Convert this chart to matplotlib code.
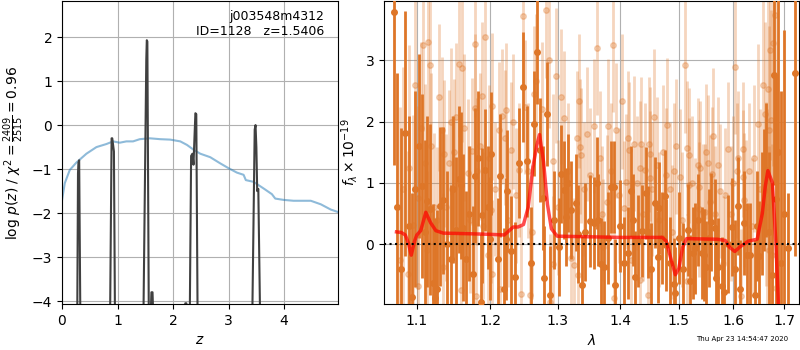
import numpy as np
import matplotlib
matplotlib.use('Agg')
import matplotlib.pyplot as plt
from matplotlib.ticker import NullLocator

# ---- left panel: redshift fit ----
z_chi = [0.0, 0.05, 0.14, 0.26, 0.44, 0.62, 0.80, 0.92, 1.04, 1.16, 1.28, 1.40, 1.58, 1.77,
         1.95, 2.13, 2.25, 2.37, 2.49, 2.67, 2.85, 3.00, 3.15, 3.27, 3.31, 3.45, 3.63, 3.78,
         3.84, 3.99, 4.17, 4.48, 4.66, 4.84, 4.98]
chi_scaled = [-1.71, -1.32, -1.02, -0.85, -0.65, -0.50, -0.43, -0.37, -0.40, -0.37, -0.37,
              -0.32, -0.30, -0.32, -0.33, -0.37, -0.45, -0.56, -0.65, -0.73, -0.87, -0.98,
              -1.08, -1.13, -1.25, -1.29, -1.44, -1.57, -1.67, -1.70, -1.72, -1.72, -1.80,
              -1.92, -1.98]

z_pz = [0.0, 0.268, 0.288, 0.296, 0.309, 0.34, 0.855, 0.893, 0.905, 0.93, 0.935, 0.962,
        1.452, 1.518, 1.527, 1.537, 1.57, 1.598, 1.61, 1.63, 1.642, 2.20, 2.22, 2.24, 2.26,
        2.29, 2.325, 2.35, 2.368, 2.385, 2.402, 2.418, 2.45, 3.41, 3.47, 3.485, 3.50, 3.515,
        3.535, 3.585, 4.98]
logpz = [-8, -6, -1.1, -0.85, -0.8, -6, -6, -0.3, -0.3, -0.55, -0.6, -6,
         -6, 1.5, 1.93, 1.9, -6, -4.3, -3.8, -3.8, -4.3, -6, -4.05, -4.05, -6,
         -6, -0.7, -0.65, -0.9, -0.3, 0.27, 0.25, -6, -6, -0.1, 0.0, -0.5, -1.5,
         -1.45, -6, -8]

# ---- right panel: 1D spectrum, beam A (solid) ----
dark_wave = [1.071, 1.075, 1.080, 1.085, 1.090, 1.094, 1.098, 1.103, 1.107, 1.110, 1.113, 1.117,
             1.121, 1.124, 1.127, 1.131, 1.135, 1.140, 1.145, 1.148, 1.152, 1.156, 1.159, 1.162,
             1.166, 1.170, 1.175, 1.178, 1.183, 1.187, 1.188, 1.193, 1.196, 1.200, 1.201, 1.211,
             1.214, 1.219, 1.222, 1.224, 1.230, 1.235, 1.241, 1.247, 1.253, 1.259, 1.264, 1.268,
             1.272, 1.277, 1.279, 1.283, 1.288, 1.294, 1.302, 1.305, 1.310, 1.313, 1.316, 1.320,
             1.328, 1.332, 1.337, 1.343, 1.351, 1.356, 1.362, 1.364, 1.368, 1.373, 1.380, 1.385,
             1.389, 1.391, 1.400, 1.405, 1.413, 1.418, 1.421, 1.424, 1.430, 1.436, 1.443, 1.447,
             1.452, 1.458, 1.463, 1.466, 1.471, 1.475, 1.477, 1.484, 1.491, 1.494, 1.500, 1.508,
             1.516, 1.520, 1.526, 1.529, 1.535, 1.541, 1.545, 1.549, 1.555, 1.559, 1.565, 1.567,
             1.571, 1.578, 1.582, 1.590, 1.597, 1.603, 1.609, 1.612, 1.620, 1.626, 1.633, 1.641,
             1.645, 1.649, 1.655, 1.659, 1.664, 1.670, 1.675, 1.679, 1.683, 1.688, 1.693, 1.700,
             1.708, 1.721]
dark_flux = [3.79, 0.6, -0.4, 1.81, 0.3, -0.86, 0.9, 1.60, 0.95, 0.2, 0.70, 0.57,
             -0.64, -0.88, -0.74, 0.62, 0.72, 0.0, -0.24, 0.9, 0.23, 1.06, 0.96, 0.27,
             -0.24, 0.5, -0.48, 1.12, 1.40, -0.94, 0.47, 1.21, 0.6, 0.09, 1.48, -0.24,
             1.12, -0.74, 0.08, 0.87, -0.11, -0.54, 1.32, 2.56, 1.35, -0.30, 1.97, 3.14,
             1.54, 0.75, -0.56, 2.12, -0.83, 0.4, -0.05, 1.14, 0.88, 0.45, 1.00, 0.56,
             0.68, 0.17, -0.66, 0.2, 0.38, 0.35, 1.00, 0.39, -0.32, -0.37, 0.1, 0.94,
             0.93, -0.67, 0.3, -0.3, -0.14, 0.86, 0.39, -0.53, 0.05, 0.22, 0.83, 0.20,
             -0.4, 0.68, -0.21, 0.59, 0.1, 0.78, -0.02, -0.3, -0.65, -0.80, 0.1, -0.40,
             0.23, -0.6, -0.14, -0.07, 0.4, -0.15, -0.18, -0.37, 0.1, 0.36, 0.27, -0.56,
             -0.37, -0.69, -0.78, 0.0, 0.28, -0.4, 0.62, -0.73, 0.34, -0.18, -0.18, -0.83,
             0.3, -0.20, 0.5, 0.88, 1.21, 0.2, -0.5, 2.76, 0.74, 1.5, -0.3, 0.5,
             -0.07, 2.80]
dark_err = [2.5, 2.2, 2.3, 2.0, 1.8, 1.7, 1.6, 1.5, 1.5, 1.5, 1.4, 1.4,
            1.3, 1.3, 1.3, 1.3, 1.2, 1.2, 1.2, 1.2, 1.2, 1.2, 1.2, 1.2,
            1.1, 1.1, 1.1, 1.1, 1.1, 1.1, 1.1, 1.0, 1.0, 1.0, 1.0, 1.0,
            1.0, 1.0, 1.0, 1.0, 0.9, 0.9, 0.9, 0.9, 0.9, 0.9, 0.85, 0.85,
            0.85, 0.85, 0.85, 0.85, 0.8, 0.8, 0.8, 0.8, 0.8, 0.8, 0.8, 0.8,
            0.8, 0.8, 0.8, 0.8, 0.75, 0.75, 0.75, 0.75, 0.75, 0.75, 0.75, 0.75,
            0.75, 0.75, 0.75, 0.75, 0.75, 0.75, 0.75, 0.75, 0.75, 0.75, 0.75, 0.75,
            0.75, 0.75, 0.75, 0.75, 0.75, 0.75, 0.75, 0.75, 0.75, 0.75, 0.75, 0.75,
            0.75, 0.75, 0.75, 0.75, 0.75, 0.75, 0.75, 0.75, 0.8, 0.8, 0.8, 0.8,
            0.8, 0.8, 0.8, 0.8, 0.8, 0.8, 0.8, 0.8, 0.85, 0.85, 0.85, 0.9,
            0.9, 0.9, 1.0, 1.0, 1.1, 1.3, 1.5, 1.8, 2.0, 2.5, 2.8, 3.0,
            0.9, 3.0]

# ---- beam B (faint) ----
light_wave = [1.078, 1.088, 1.090, 1.095, 1.097, 1.101, 1.102, 1.108, 1.111, 1.115, 1.117, 1.122,
              1.126, 1.133, 1.134, 1.136, 1.143, 1.145, 1.150, 1.152, 1.156, 1.159, 1.160, 1.168,
              1.174, 1.178, 1.179, 1.180, 1.181, 1.188, 1.193, 1.196, 1.201, 1.202, 1.203, 1.212,
              1.214, 1.217, 1.221, 1.222, 1.229, 1.241, 1.244, 1.248, 1.251, 1.254, 1.257, 1.261,
              1.263, 1.267, 1.282, 1.287, 1.288, 1.292, 1.293, 1.297, 1.305, 1.310, 1.320, 1.325,
              1.330, 1.331, 1.333, 1.334, 1.336, 1.351, 1.357, 1.362, 1.372, 1.378, 1.380, 1.388,
              1.390, 1.393, 1.402, 1.406, 1.409, 1.412, 1.415, 1.422, 1.432, 1.433, 1.435, 1.441,
              1.447, 1.448, 1.449, 1.450, 1.457, 1.477, 1.479, 1.491, 1.496, 1.511, 1.514, 1.515,
              1.518, 1.519, 1.534, 1.536, 1.537, 1.539, 1.543, 1.548, 1.550, 1.552, 1.557, 1.560,
              1.562, 1.576, 1.581, 1.590, 1.596, 1.604, 1.608, 1.609, 1.615, 1.618, 1.619, 1.620,
              1.648, 1.658, 1.662, 1.663, 1.665, 1.668, 1.669, 1.670, 1.672, 1.673, 1.675, 1.677,
              1.681, 1.684]
light_flux = [-0.26, -0.48, 1.25, 0.31, 2.60, -0.69, 0.76, 3.25, 1.32, 3.30, 2.92, 0.61,
              0.39, 1.86, -0.37, 1.48, 1.32, 2.00, 1.50, 2.08, 2.95, -0.75, 2.87, 1.17,
              1.52, 3.27, 2.23, -0.85, 1.19, 2.42, 3.38, -0.18, 0.56, 2.25, -0.48, 1.87,
              -0.74, 2.09, 1.74, 2.19, 1.54, 1.21, -0.81, 3.73, 2.24, 1.20, -0.83, 0.20,
              2.46, 2.66, 3.82, 3.00, -0.94, 1.36, -0.32, 2.75, 2.41, 2.06, -0.22, -0.34,
              1.73, -0.51, 2.34, 1.59, 1.45, 1.13, 1.93, 3.21, -0.04, 0.69, 1.93, 3.25,
              -0.88, 1.86, 2.33, 0.59, 1.02, 1.73, 1.54, 1.64, 1.24, -0.58, 1.63, 1.21,
              -0.83, 1.63, 1.47, 1.08, 2.08, 1.13, 1.94, 1.20, 1.60, 2.92, 1.57, -0.60,
              1.45, 0.96, 1.29, 0.93, 0.57, 1.24, 0.53, 0.53, 1.51, 1.33, 0.69, 1.14,
              1.77, 0.87, -0.32, 1.55, 0.50, 2.90, 1.20, 1.40, -0.85, 1.09, 1.55, 0.72,
              1.97, 2.60, 2.13, 0.82, 0.61, 2.53, 1.86, -0.10, 3.17, 2.03, -0.17, 3.28,
              3.74, -0.71]
light_err = [2.5, 2.0, 2.0, 1.8, 1.8, 1.5, 1.5, 1.4, 1.3, 1.3, 1.3, 1.2,
             1.2, 1.2, 1.2, 1.2, 1.2, 1.2, 1.2, 1.2, 1.2, 1.2, 1.2, 1.2,
             1.2, 1.2, 1.2, 1.2, 1.2, 1.2, 1.2, 1.2, 1.2, 1.2, 1.2, 1.1,
             1.1, 1.1, 1.1, 1.1, 1.1, 1.1, 1.1, 1.1, 1.1, 1.1, 1.1, 1.1,
             1.1, 1.1, 1.1, 1.1, 1.1, 1.1, 1.1, 1.1, 1.1, 1.1, 1.1, 1.1,
             1.1, 1.1, 1.1, 1.1, 1.1, 1.1, 1.1, 1.1, 1.1, 1.1, 1.1, 1.1,
             1.1, 1.1, 1.1, 1.1, 1.1, 1.1, 1.1, 1.1, 1.1, 1.1, 1.1, 1.1,
             1.1, 1.1, 1.1, 1.1, 1.1, 1.1, 1.1, 1.1, 1.1, 1.1, 1.1, 1.1,
             1.1, 1.1, 1.1, 1.1, 1.1, 1.1, 1.1, 1.1, 1.1, 1.1, 1.1, 1.1,
             1.1, 1.1, 1.1, 1.1, 1.1, 1.1, 1.1, 1.1, 1.1, 1.1, 1.1, 1.1,
             1.3, 1.5, 1.5, 1.5, 1.6, 1.7, 1.7, 1.7, 1.8, 1.8, 1.8, 2.0,
             2.0, 2.0]

# ---- beam C (faint) ----
light2_wave = [1.082, 1.105, 1.113, 1.119, 1.129, 1.139, 1.147, 1.163, 1.171, 1.185, 1.190, 1.198,
               1.207, 1.226, 1.233, 1.237, 1.276, 1.300, 1.315, 1.340, 1.345, 1.366, 1.370, 1.384,
               1.397, 1.417, 1.427, 1.438, 1.454, 1.461, 1.466, 1.472, 1.485, 1.488, 1.502, 1.506,
               1.524, 1.529, 1.566, 1.571, 1.585, 1.600, 1.625, 1.630, 1.636, 1.640, 1.652]
light2_flux = [0.9, 1.9, -0.1, 1.6, 2.4, 0.6, 0.9, 1.9, 0.4, 1.6, 0.3, 1.4,
               0.9, 0.4, 2.0, 0.8, 2.2, 0.6, 1.2, 0.9, 1.8, 1.4, 0.5, 1.2,
               0.8, -0.26, 1.0, 0.5, 0.9, 1.3, 0.4, 1.5, 0.9, 0.2, 1.1, 0.4,
               1.0, 0.3, 0.5, 1.3, 0.8, 1.0, 0.6, 1.2, 0.3, 1.4, 0.9]
light2_err = [2.0, 1.4, 1.3, 1.2, 1.2, 1.2, 1.2, 1.2, 1.2, 1.2, 1.2, 1.2,
              1.1, 1.1, 1.1, 1.1, 1.1, 1.1, 1.1, 1.1, 1.1, 1.1, 1.1, 1.1,
              1.1, 1.1, 1.1, 1.1, 1.1, 1.1, 1.1, 1.1, 1.1, 1.1, 1.1, 1.1,
              1.1, 1.1, 1.1, 1.1, 1.1, 1.1, 1.1, 1.1, 1.1, 1.2, 1.3]

model_wave = [1.0738, 1.080, 1.085, 1.089, 1.0927, 1.097, 1.100, 1.105, 1.1117, 1.118, 1.125,
              1.135, 1.17, 1.20, 1.22, 1.233, 1.240, 1.248, 1.255, 1.262, 1.268, 1.272, 1.278,
              1.284, 1.290, 1.299, 1.35, 1.40, 1.471, 1.478, 1.485, 1.494, 1.500, 1.507, 1.514,
              1.570, 1.585, 1.593, 1.603, 1.612, 1.629, 1.646, 1.656, 1.662, 1.667, 1.676,
              1.683, 1.688]
model_flux = [0.20, 0.19, 0.15, 0.02, -0.18, 0.05, 0.15, 0.22, 0.52, 0.35, 0.22,
              0.18, 0.17, 0.16, 0.15, 0.28, 0.28, 0.32, 0.60, 1.25, 1.62, 1.79, 1.35,
              0.65, 0.25, 0.13, 0.12, 0.11, 0.11, 0.05, -0.20, -0.50, -0.40, -0.05, 0.09,
              0.08, 0.06, -0.05, -0.12, -0.05, 0.05, 0.08, 0.50, 0.95, 1.20, 1.00,
              0.00, -1.00]

lam_ticks = [1.1, 1.2, 1.3, 1.4, 1.5, 1.6, 1.7]

dark_col = '#de7628'

fig = plt.figure(figsize=(8, 3.5), dpi=100)
ax1 = fig.add_axes([0.0775, 0.131, 0.345, 0.866])
ax2 = fig.add_axes([0.48, 0.131, 0.519, 0.866])

ax1.plot(z_chi, chi_scaled, color='#1f77b4', alpha=0.5, lw=1.5)
ax1.plot(z_pz, logpz, color='0.25', lw=1.5)
ax1.set_xlim(0, 4.97)
ax1.set_ylim(-4.07, 2.82)
ax1.set_xticks([0, 1, 2, 3, 4])
ax1.set_yticks([-4, -3, -2, -1, 0, 1, 2])
ax1.grid()
ax1.set_xlabel('$z$')
ax1.set_ylabel(r'log $p(z)$ / $\chi^2=\frac{2409}{2515}=0.96$')
ax1.text(0.95, 0.97, 'j003548m4312\nID=1128   z=1.5406', transform=ax1.transAxes,
         ha='right', va='top', fontsize=9)

for w, f, e in [(light_wave, light_flux, light_err), (light2_wave, light2_flux, light2_err)]:
    ax2.errorbar(w, f, yerr=e, fmt='o', color=dark_col, alpha=0.3,
                 ms=4, elinewidth=2, zorder=2)
ax2.errorbar(dark_wave, dark_flux, yerr=dark_err, fmt='o', color=dark_col,
             ms=4, elinewidth=2, zorder=3)
ax2.plot(model_wave, model_flux, color='red', alpha=0.7, lw=2.5, zorder=4)
ax2.axhline(0, color='k', ls=':', lw=1.5, zorder=5)
ax2.set_xscale('log')
ax2.set_xlim(1.058, 1.730)
ax2.set_ylim(-0.98, 3.97)
ax2.set_xticks(lam_ticks)
ax2.set_xticklabels(['%.1f' % t for t in lam_ticks])
ax2.xaxis.set_minor_locator(NullLocator())
ax2.set_yticks([0, 1, 2, 3])
ax2.grid()
ax2.set_xlabel(r'$\lambda$')
ax2.set_ylabel(r'$f_\lambda\times10^{-19}$')

fig.text(0.985, 0.031, 'Thu Apr 23 14:54:47 2020', ha='right', va='center', fontsize=5)

fig.savefig('out.png', dpi=100)
